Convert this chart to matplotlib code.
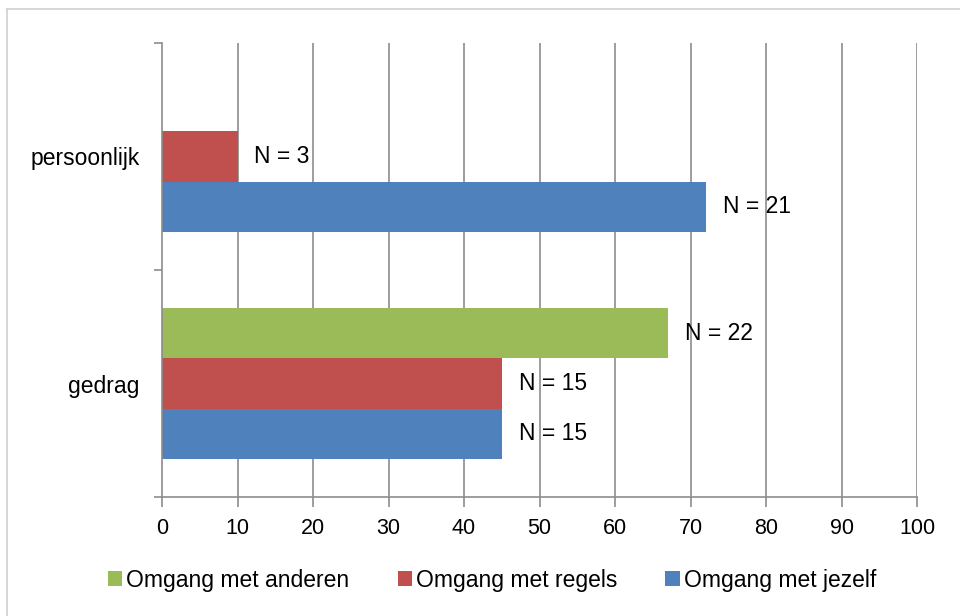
import numpy as np
import matplotlib
matplotlib.use("Agg")
import matplotlib.pyplot as plt
from matplotlib.patches import Patch
from matplotlib.lines import Line2D

categories = ["gedrag", "persoonlijk"]
series_names = ["Omgang met anderen", "Omgang met regels", "Omgang met jezelf"]
anderen = [67, np.nan]
regels = [45, 10]
jezelf = [45, 72]
labels_anderen = ["N = 22", None]
labels_regels = ["N = 15", "N = 3"]
labels_jezelf = ["N = 15", "N = 21"]
x_ticks = [0, 10, 20, 30, 40, 50, 60, 70, 80, 90, 100]

colors = ["#9BBB59", "#C0504D", "#4F81BD"]
grid_col = "#8C8C8C"

plt.rcParams['font.family'] = ['Liberation Sans', 'DejaVu Sans']
FS_NUM = 15.5
FS_TXT = 16.5

fig = plt.figure(figsize=(9.6, 6.16), dpi=100)
W, H = 960, 616
ax = fig.add_axes([162 / W, 1 - 497 / H, (917 - 162) / W, (497 - 43) / H])

y = np.arange(len(categories))
h = 2 / 9
series = [anderen, regels, jezelf]
labels = [labels_anderen, labels_regels, labels_jezelf]
offsets = [h, 0, -h]
for vals, labs, off, col, name in zip(series, labels, offsets, colors, series_names):
    ax.barh(y + off, vals, height=h, color=col, label=name, zorder=2)
    for yi, v, lab in zip(y, vals, labs):
        if lab is not None and not np.isnan(v):
            ax.annotate(lab, xy=(v, yi + off), xytext=(17, 0), textcoords='offset pixels',
                        ha='left', va='center', fontsize=FS_TXT, color='#000000', zorder=1)

ax.set_xlim(0, 100)
ax.set_ylim(-0.5, 1.5)
ax.set_xticks(x_ticks)
ax.set_xticklabels([str(t) for t in x_ticks])
ax.set_yticks(y)
ax.set_yticklabels(categories)
ax.set_yticks([-0.5, 0.5, 1.5], minor=True)
ax.tick_params(axis='y', which='major', length=0, pad=16, labelsize=FS_TXT)
ax.tick_params(axis='y', which='minor', length=6, width=1.2, color=grid_col)
ax.tick_params(axis='x', which='major', length=7, width=1.2, color=grid_col, pad=8, labelsize=FS_NUM)

for s in ['top', 'right']:
    ax.spines[s].set_visible(False)
for s in ['left', 'bottom']:
    ax.spines[s].set_color(grid_col)
    ax.spines[s].set_linewidth(1.2)

for t in x_ticks[1:]:
    ax.axvline(t, color=grid_col, linewidth=1.2, zorder=0)

handles = [Patch(facecolor=c, edgecolor='none') for c in colors]
fig.legend(handles, series_names, loc='center', bbox_to_anchor=(492 / W, 1 - 580 / H),
           ncol=3, frameon=False, fontsize=FS_TXT, handlelength=0.62, handleheight=0.62,
           handletextpad=0.18, columnspacing=2.1)

# chart border
fig.add_artist(Line2D([7 / W, 1], [1 - 9 / H, 1 - 9 / H], color='#D0D0D0', linewidth=1.2))
fig.add_artist(Line2D([7 / W, 7 / W], [0, 1 - 9 / H], color='#D0D0D0', linewidth=1.2))

fig.savefig("out.png", dpi=100)
